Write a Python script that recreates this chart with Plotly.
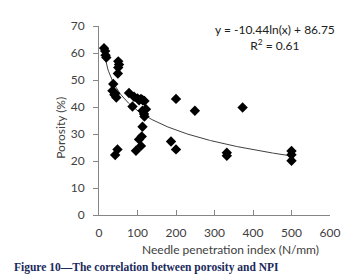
import numpy as np
import plotly.graph_objects as go

# Data
npi = [13, 16, 17, 19,
       50, 52, 50, 49,
       37, 35, 42, 45, 40,
       78, 87, 91, 100, 104, 109, 113, 118,
       122, 113, 117, 118, 113, 111, 104, 109, 96,
       42, 48,
       187, 200, 200, 249, 373,
       332, 332,
       500, 500, 500]
porosity = [61.8, 60.7, 59.2, 58.3,
            56.9, 55.7, 54.6, 52.4,
            48.5, 46.0, 45.0, 43.5, 44.5,
            45.2, 40.2, 43.8, 43.2, 42.5, 43.0, 42.6, 42.2,
            39.2, 38.6, 37.4, 36.5, 32.7, 29.1, 28.0, 25.6, 23.8,
            22.2, 24.3,
            27.2, 24.3, 43.0, 38.6, 39.8,
            23.1, 21.9,
            23.7, 22.3, 20.1]

# Logarithmic trendline coefficients (from the chart label)
fit_a = -10.44
fit_b = 86.75
fit_r2 = 0.61

x_ticks = [0, 100, 200, 300, 400, 500, 600]
y_ticks = [0, 10, 20, 30, 40, 50, 60, 70]

xf = np.linspace(min(npi), max(npi), 200)
yf = fit_a * np.log(xf) + fit_b

axis_col = "#868686"
txt_col = "#404040"
font_fam = "Lato, 'Open Sans', sans-serif"

fig = go.Figure()
fig.add_trace(go.Scatter(x=xf, y=yf, mode="lines",
                         line=dict(color="#404040", width=1), hoverinfo="skip",
                         showlegend=False))
fig.add_trace(go.Scatter(x=npi, y=porosity, mode="markers",
                         marker=dict(symbol="diamond", size=8, color="black"),
                         showlegend=False))

fig.update_layout(
    width=355, height=274,
    margin=dict(l=91, r=33, t=10, b=67),
    paper_bgcolor="white", plot_bgcolor="white",
    font=dict(family=font_fam, size=12, color=txt_col),
    xaxis=dict(range=[0, 600], tickvals=x_ticks, showgrid=False, zeroline=False,
               showline=True, linecolor=axis_col, linewidth=1,
               ticks="inside", ticklen=5, tickcolor=axis_col,
               ticklabelstandoff=7,
               tickfont=dict(size=12, color=txt_col)),
    yaxis=dict(range=[0, 70], tickvals=y_ticks, showgrid=False, zeroline=False,
               showline=True, linecolor=axis_col, linewidth=1,
               ticks="outside", ticklen=5, tickcolor=axis_col,
               ticklabelstandoff=6,
               tickfont=dict(size=12, color=txt_col)),
    annotations=[
        dict(text="Needle penetration index (N/mm)", xref="paper", yref="paper",
             x=0.57, y=-0.18, xanchor="center", yanchor="middle", showarrow=False,
             font=dict(size=12, color=txt_col, family=font_fam)),
        dict(text="Porosity (%)", xref="paper", yref="paper",
             x=-0.17, y=0.46, xanchor="center", yanchor="middle", showarrow=False,
             textangle=-90, font=dict(size=12, color=txt_col, family=font_fam)),
        dict(text="y = -10.44ln(x) + 86.75<br>R<sup>2</sup> = %.2f" % fit_r2,
             xref="paper", yref="paper", x=0.76, y=0.94,
             xanchor="center", yanchor="middle", showarrow=False,
             font=dict(size=12, color="#202020", family=font_fam)),
        dict(text="<b>Figure 10\u2014The correlation between porosity and NPI</b>",
             xref="paper", yref="paper", x=-0.375, y=-0.28,
             xanchor="left", yanchor="middle", showarrow=False,
             font=dict(size=11.5, color="#1a2a5a",
                       family="'Liberation Serif', 'Times New Roman', serif")),
    ],
)

fig.write_html("out.html")
